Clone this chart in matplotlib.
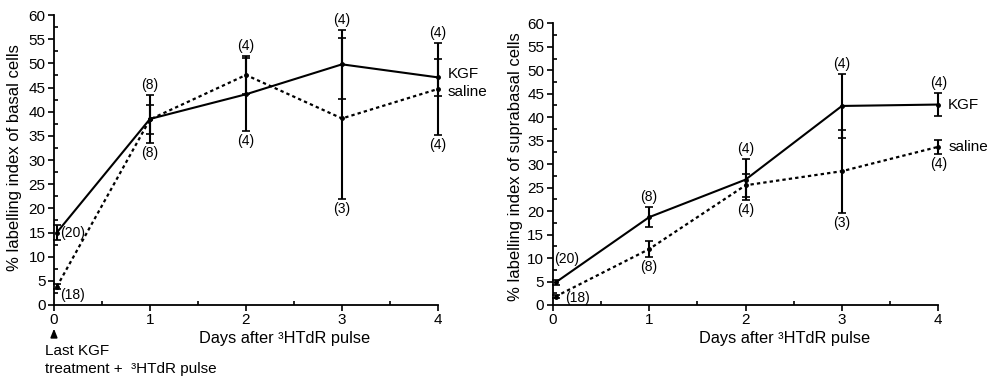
import matplotlib
matplotlib.use('Agg')
import matplotlib.pyplot as plt
from matplotlib.ticker import MultipleLocator

plt.rcParams['font.family'] = ['Liberation Sans', 'DejaVu Sans']
plt.rcParams['font.size'] = 10

# ---- data ----
days = [0.03, 1, 2, 3, 4]

kgf_basal = [15.0, 38.5, 43.6, 49.8, 47.1]
kgf_basal_err = [1.5, 5.0, 7.5, 7.1, 3.8]
sal_basal = [3.8, 38.4, 47.6, 38.6, 44.7]
sal_basal_err = [0.5, 3.0, 4.0, 16.6, 9.5]

kgf_supra = [4.8, 18.7, 26.7, 42.4, 42.7]
kgf_supra_err = [0.5, 2.1, 4.4, 6.9, 2.4]
sal_supra = [1.8, 11.9, 25.5, 28.5, 33.7]
sal_supra_err = [0.3, 1.7, 2.4, 8.8, 1.5]

basal_n_top = ['(20)', '(8)', '(4)', '(4)', '(4)']
basal_n_bottom = ['(18)', '(8)', '(4)', '(3)', '(4)']
supra_n_top = ['(20)', '(8)', '(4)', '(4)', '(4)']
supra_n_bottom = ['(18)', '(8)', '(4)', '(3)', '(4)']

xticks = [0, 1, 2, 3, 4]
yticks = list(range(0, 61, 5))
xlabel = 'Days after ³HTdR pulse'
ylabel_basal = '% labelling index of basal cells'
ylabel_supra = '% labelling index of suprabasal cells'

fig = plt.figure(figsize=(9.94, 3.82), dpi=100)
axL = fig.add_axes([0.0543, 0.2016, 0.3863, 0.7590])
axR = fig.add_axes([0.5560, 0.2016, 0.3880, 0.7373])

DOT = (0, (1.5, 1.4))


def style(ax):
    ax.set_xlim(0, 4)
    ax.set_ylim(0, 60)
    ax.spines['top'].set_visible(False)
    ax.spines['right'].set_visible(False)
    for s in ('left', 'bottom'):
        ax.spines[s].set_linewidth(1.3)
    ax.set_xticks(xticks)
    ax.set_yticks(yticks)
    ax.xaxis.set_minor_locator(MultipleLocator(0.5))
    ax.yaxis.set_minor_locator(MultipleLocator(2.5))
    ax.tick_params(which='major', direction='out', length=4, width=1.2,
                   labelsize=11, pad=2)
    ax.tick_params(which='minor', direction='in', length=3, width=1.2)


def draw(ax, kgf, kgf_err, sal, sal_err):
    ax.errorbar(days, kgf, yerr=kgf_err, color='black', lw=1.5, ls='-',
                marker='o', ms=2.5, capsize=3, elinewidth=1.5, capthick=1.2,
                clip_on=False, zorder=3)
    ax.errorbar(days, sal, yerr=sal_err, color='black', lw=1.6, ls=DOT,
                marker='o', ms=2.5, capsize=3,
                elinewidth=1.5, capthick=1.2, clip_on=False, zorder=3)


def nlabels(ax, kgf, kgf_err, sal, sal_err, top, bottom):
    for i in range(1, len(days)):
        hi = max(kgf[i] + kgf_err[i], sal[i] + sal_err[i])
        lo = min(kgf[i] - kgf_err[i], sal[i] - sal_err[i])
        ax.annotate(top[i], xy=(days[i], hi), xytext=(0, 10),
                    textcoords='offset pixels', ha='center', va='center',
                    fontsize=10)
        ax.annotate(bottom[i], xy=(days[i], lo), xytext=(0, -10),
                    textcoords='offset pixels', ha='center', va='center',
                    fontsize=10)


for ax in (axL, axR):
    style(ax)

draw(axL, kgf_basal, kgf_basal_err, sal_basal, sal_basal_err)
draw(axR, kgf_supra, kgf_supra_err, sal_supra, sal_supra_err)
nlabels(axL, kgf_basal, kgf_basal_err, sal_basal, sal_basal_err,
        basal_n_top, basal_n_bottom)
nlabels(axR, kgf_supra, kgf_supra_err, sal_supra, sal_supra_err,
        supra_n_top, supra_n_bottom)

# day-0 n labels
axL.annotate(basal_n_top[0], xy=(days[0], kgf_basal[0]), xytext=(3, 0),
             textcoords='offset pixels', ha='left', va='center', fontsize=10)
axL.annotate(basal_n_bottom[0], xy=(days[0], sal_basal[0]), xytext=(3, -8),
             textcoords='offset pixels', ha='left', va='center', fontsize=10)
axR.annotate(supra_n_top[0], xy=(days[0], kgf_supra[0]), xytext=(-1, 23),
             textcoords='offset pixels', ha='left', va='center', fontsize=10)
axR.annotate(supra_n_bottom[0], xy=(days[0], sal_supra[0]), xytext=(10, -1),
             textcoords='offset pixels', ha='left', va='center', fontsize=10)

# series labels
axL.annotate('KGF', xy=(days[-1], kgf_basal[-1]), xytext=(10, 3),
             textcoords='offset pixels', ha='left', va='center', fontsize=11)
axL.annotate('saline', xy=(days[-1], sal_basal[-1]), xytext=(10, -3),
             textcoords='offset pixels', ha='left', va='center', fontsize=11)
axR.annotate('KGF', xy=(days[-1], kgf_supra[-1]), xytext=(9, 0),
             textcoords='offset pixels', ha='left', va='center', fontsize=11)
axR.annotate('saline', xy=(days[-1], sal_supra[-1]), xytext=(10, 0),
             textcoords='offset pixels', ha='left', va='center', fontsize=11)

# axis labels
axL.set_xlabel(xlabel, fontsize=11.8)
axL.xaxis.set_label_coords(0.60, -0.088)
axR.set_xlabel(xlabel, fontsize=11.8)
axR.xaxis.set_label_coords(0.60, -0.091)
axL.set_ylabel(ylabel_basal, fontsize=12)
axL.yaxis.set_label_coords(-0.083, 0.51)
axR.set_ylabel(ylabel_supra, fontsize=12)
axR.yaxis.set_label_coords(-0.076, 0.49)

# arrow and note under day 0
axL.annotate('', xy=(0, -0.072), xycoords=('data', 'axes fraction'),
             xytext=(0, -0.115), textcoords=('data', 'axes fraction'),
             arrowprops=dict(arrowstyle='-|>,head_length=0.5,head_width=0.2',
                             color='black', lw=1.2))
axL.text(-0.024, -0.133, 'Last KGF\ntreatment +  ³HTdR pulse',
         transform=axL.transAxes, ha='left', va='top', fontsize=11,
         linespacing=1.4)

fig.savefig('out.png', dpi=100)
